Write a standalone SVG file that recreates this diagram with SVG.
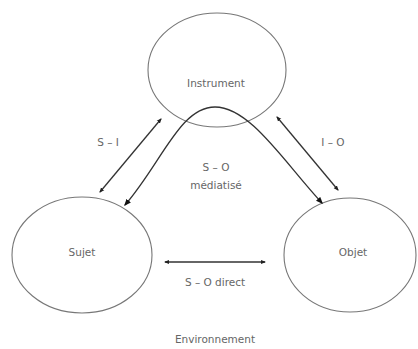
<svg xmlns="http://www.w3.org/2000/svg" width="418" height="349" viewBox="0 0 418 349">
  <defs>
    <marker id="tip" viewBox="0 0 10 10" refX="8" refY="5" markerWidth="4" markerHeight="4" orient="auto-start-reverse">
      <path d="M0,1 L10,5 L0,9 z" fill="#222"/>
    </marker>
    <marker id="tipBig" viewBox="0 0 10 10" refX="8" refY="5" markerWidth="5.5" markerHeight="5.5" orient="auto-start-reverse">
      <path d="M0,1 L10,5 L0,9 z" fill="#111"/>
    </marker>
  </defs>
  <style>
    .node ellipse { fill: none; stroke: #777; stroke-width: 1.1; }
    .lbl { font-family: "DejaVu Sans", Verdana, sans-serif; font-size: 10.5px; fill: #666; text-anchor: middle; }
    .link { fill: none; stroke: #333; stroke-width: 1.3; }
  </style>
  <rect width="418" height="349" fill="#fff"/>

  <g id="instrument" class="node">
    <ellipse cx="217" cy="70" rx="69" ry="57"/>
    <text class="lbl" x="216" y="87">Instrument</text>
  </g>
  <g id="sujet" class="node">
    <ellipse cx="82" cy="255" rx="70" ry="58"/>
    <text class="lbl" x="82" y="256">Sujet</text>
  </g>
  <g id="objet" class="node">
    <ellipse cx="350" cy="255" rx="66" ry="57"/>
    <text class="lbl" x="353" y="256">Objet</text>
  </g>

  <g id="connectors">
    <line class="link" x1="100" y1="192" x2="161" y2="119" marker-start="url(#tip)" marker-end="url(#tip)"/>
    <line class="link" x1="277" y1="117" x2="338" y2="190" marker-start="url(#tip)" marker-end="url(#tip)"/>
    <path class="link" d="M125,205 C162,162 180,107 215,107 C250,107 284,162 322,203" marker-start="url(#tipBig)" marker-end="url(#tipBig)"/>
    <line class="link" x1="165" y1="262" x2="265" y2="262" marker-start="url(#tip)" marker-end="url(#tip)"/>
  </g>

  <g id="labels">
    <text class="lbl" x="108" y="146">S – I</text>
    <text class="lbl" x="333" y="146">I – O</text>
    <text class="lbl" x="216" y="171">S – O</text>
    <text class="lbl" x="216" y="189">médiatisé</text>
    <text class="lbl" x="215" y="286">S – O direct</text>
    <text class="lbl" x="215" y="343">Environnement</text>
  </g>
</svg>
